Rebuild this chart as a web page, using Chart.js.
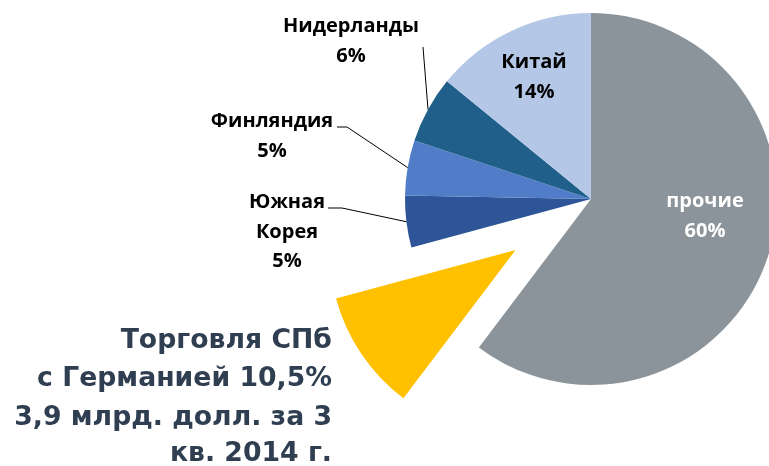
<!DOCTYPE html>
<html><head><meta charset="utf-8">
<script src="https://cdn.jsdelivr.net/npm/chart.js@4.4.1/dist/chart.umd.min.js"></script>
<style>html,body{margin:0;padding:0;background:#fff;overflow:hidden}canvas{display:block}</style>
</head><body>
<canvas id="c" width="769" height="466"></canvas>
<script>
// ---- data ----
const categories = ['прочие', 'Германия', 'Южная Корея', 'Финляндия', 'Нидерланды', 'Китай'];
const labelLines = [['прочие'], null, ['Южная', 'Корея'], ['Финляндия'], ['Нидерланды'], ['Китай']];
const shares = [60.3, 10.5, 4.5, 4.8, 5.8, 14.1];
const germanyTradeBn = 3.9;
const quarter = 3;
const year = 2014;

// ---- style ----
const colors = ['#8A949A', '#FFC000', '#2E5597', '#517DC8', '#1F5F89', '#B4C7E7'];
const explodedIndex = 1;
const explodeDistance = 91;
const labelStyle = {
  0: {x: 705, y: 207, color: '#FFFFFF'},
  2: {x: 287, y: 208, leader: [[328, 208], [342, 208]]},
  3: {x: 272, y: 127, leader: [[337, 127], [347, 127]]},
  4: {x: 351, y: 32, leader: [[423, 47]]},
  5: {x: 534, y: 68}
};
const fmt = v => String(v).replace('.', ',');

const explodePlugin = {
  id: 'explode',
  afterDatasetUpdate(chart, args) {
    const arc = args.meta.data[explodedIndex];
    if (!arc) return;
    const mid = (arc.startAngle + arc.endAngle) / 2;
    arc.x += Math.cos(mid) * explodeDistance;
    arc.y += Math.sin(mid) * explodeDistance;
  }
};

const labelPlugin = {
  id: 'labels',
  afterDatasetsDraw(chart) {
    const ctx = chart.ctx;
    const arcs = chart.getDatasetMeta(0).data;
    ctx.save();
    ctx.font = 'bold 20px "Open Sans"';
    ctx.textAlign = 'center';
    ctx.textBaseline = 'alphabetic';
    Object.keys(labelStyle).forEach(k => {
      const i = +k, st = labelStyle[k], arc = arcs[i];
      const lines = labelLines[i].concat([Math.round(shares[i]) + '%']);
      if (st.leader) {
        const mid = (arc.startAngle + arc.endAngle) / 2;
        const ex = arc.x + Math.cos(mid) * arc.outerRadius;
        const ey = arc.y + Math.sin(mid) * arc.outerRadius;
        ctx.beginPath();
        ctx.strokeStyle = '#000';
        ctx.lineWidth = 1;
        st.leader.forEach((p, j) => j ? ctx.lineTo(p[0], p[1]) : ctx.moveTo(p[0], p[1]));
        ctx.lineTo(ex, ey);
        ctx.stroke();
      }
      ctx.fillStyle = st.color || '#000';
      lines.forEach((t, j) => ctx.fillText(t, st.x, st.y + j * 29.7));
    });
    // headline for exploded slice
    const head = ['Торговля СПб', 'с Германией ' + fmt(shares[explodedIndex]) + '%',
      fmt(germanyTradeBn) + ' млрд. долл. за ' + quarter, 'кв. ' + year + ' г.'];
    ctx.font = 'bold 100px "DejaVu Sans"';
    const size = 100 * 295 / ctx.measureText(head[1]).width;
    ctx.font = 'bold ' + size.toFixed(2) + 'px "DejaVu Sans"';
    ctx.fillStyle = '#2F3E50';
    ctx.textAlign = 'right';
    const base = [348, 386, 425, 461];
    head.forEach((t, j) => ctx.fillText(t, 332, base[j]));
    ctx.restore();
  }
};

new Chart(document.getElementById('c'), {
  type: 'pie',
  data: {
    labels: categories,
    datasets: [{
      data: shares,
      backgroundColor: colors,
      borderWidth: 0,
      clip: false
    }]
  },
  options: {
    responsive: false,
    animation: false,
    radius: 186,
    layout: {padding: {left: 413, right: 0, top: 0, bottom: 68}},
    plugins: {legend: {display: false}, tooltip: {enabled: false}}
  },
  plugins: [explodePlugin, labelPlugin]
});
</script>
</body></html>
